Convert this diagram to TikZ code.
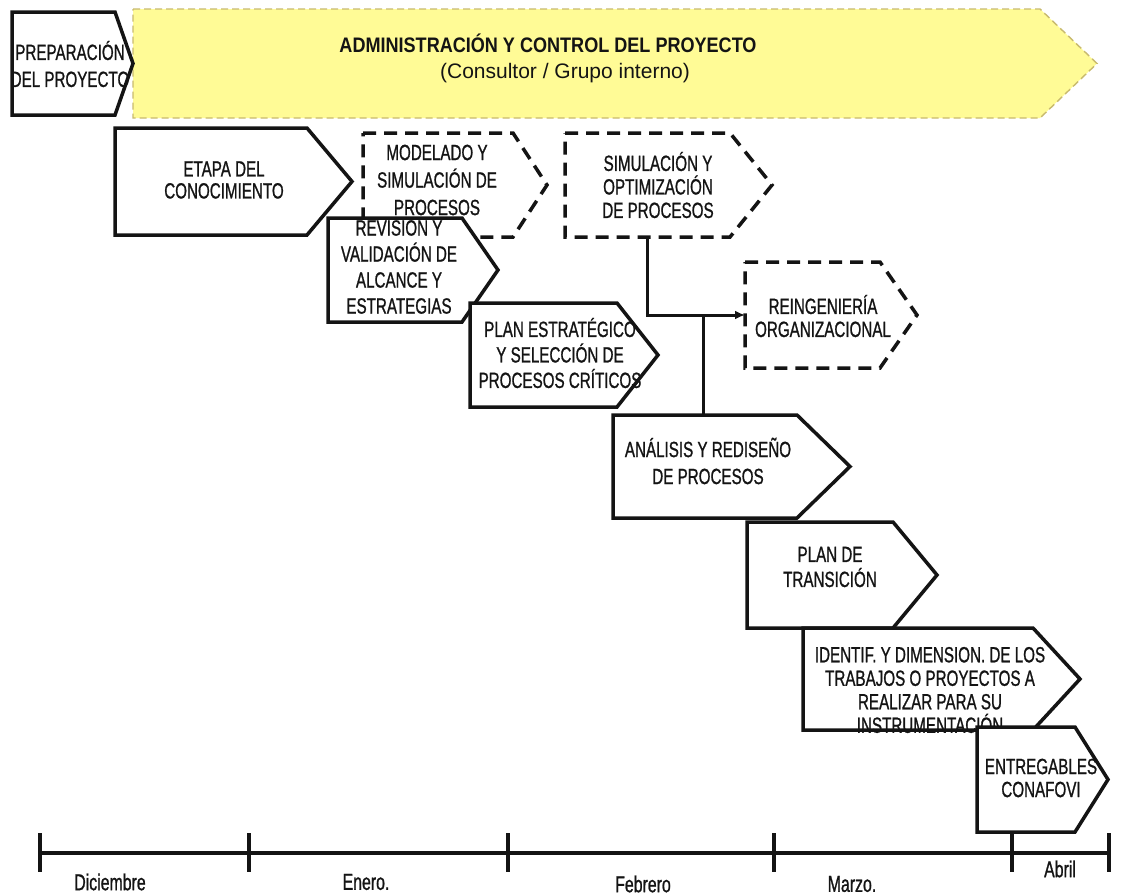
\documentclass[tikz,border=0pt]{standalone}
\usepackage{fontspec}
\setmainfont{Liberation Sans}
\newfontfamily\narrowfont{Liberation Sans}[FakeStretch=0.69,FakeBold=0.9]
\newfontfamily\titlefont{Liberation Sans}[FakeStretch=0.86]
\usetikzlibrary{arrows.meta}

\definecolor{banner}{RGB}{255,251,150}
\definecolor{bannerline}{RGB}{200,186,110}
\definecolor{ink}{RGB}{20,20,20}

\tikzset{
  shapebody/.style={draw=none, inner sep=0pt, outer sep=0pt, rectangle},
  solidstage/.style={draw=ink, line width=3.5pt, fill=white},
  dashedstage/.style={draw=ink, line width=3.5pt, fill=white, dash pattern=on 13pt off 8pt},
  bannerstage/.style={draw=bannerline, line width=1.4pt, fill=banner, dash pattern=on 7pt off 4pt},
  stagetext/.style={align=center, text=ink, inner sep=0pt},
  month/.style={font=\narrowfont\fontsize{23}{24}\selectfont, text=ink, inner sep=0pt},
  rule/.style={draw=ink, line width=3.5pt},
  link/.style={draw=ink, line width=3pt},
}
% text size with a given line spacing
\newcommand\stagefont[1]{\narrowfont\fontsize{22}{#1}\selectfont}

% pentagon arrow: #1 style, #2 name, (#3,#4) top left, (#5,#6) bottom right of body, #7 tip x
\newcommand\stagebox[7]{%
  \node[shapebody, minimum width={#5-#3}, minimum height={#6-#4}] (#2) at ({(#3+#5)/2},{(#4+#6)/2}) {};
  \draw[#1] (#2.north west) -- (#2.north east) -- ([xshift={#7-#5}]#2.east)
            -- (#2.south east) -- (#2.south west) -- cycle;
}

\begin{document}
\begin{tikzpicture}[x=1pt,y=-1pt]
\useasboundingbox[fill=white] (0,0) rectangle (1122,895);

% project management banner
\stagebox{bannerstage}{admin}{133}{9}{1040}{118}{1097}
\node[stagetext, font=\titlefont\bfseries\fontsize{21}{24}\selectfont] (admin-t) at (548,43)
  {ADMINISTRACIÓN Y CONTROL DEL PROYECTO};
\node[stagetext, font=\fontsize{21}{24}\selectfont] (admin-s) at (565,73)
  {(Consultor / Grupo interno)};

% preparation
\stagebox{solidstage}{prep}{12}{12}{115}{115}{133}
\node[stagetext, font=\stagefont{27}] (prep-t) at (70,64) {PREPARACIÓN\\DEL PROYECTO};

% knowledge stage
\stagebox{solidstage}{etapa}{115}{128}{307}{235}{352}
\node[stagetext, font=\stagefont{22}] (etapa-t) at (224,180) {ETAPA DEL\\CONOCIMIENTO};

% modelling and simulation
\stagebox{dashedstage}{model}{363}{133}{513}{237}{547}
\node[stagetext, font=\stagefont{27.5}] (model-t) at (437,180) {MODELADO Y\\SIMULACIÓN DE\\PROCESOS};

% simulation and optimisation
\stagebox{dashedstage}{sim}{565}{133}{730}{237}{772}
\node[stagetext, font=\stagefont{23.5}] (sim-t) at (658,185) {SIMULACIÓN Y\\OPTIMIZACIÓN\\DE PROCESOS};

% scope review
\stagebox{solidstage}{rev}{328}{218}{462}{322}{498}
\node[stagetext, font=\stagefont{26}] (rev-t) at (399,267) {REVISION Y\\VALIDACIÓN DE\\ALCANCE Y\\ESTRATEGIAS};

% strategic plan
\stagebox{solidstage}{plan}{470}{303}{617}{407}{658}
\node[stagetext, font=\stagefont{25.5}] (plan-t) at (560,353) {PLAN ESTRATÉGICO\\Y SELECCIÓN DE\\PROCESOS CRÍTICOS};

% organisational reengineering
\stagebox{dashedstage}{reing}{745}{262}{880}{368}{917}
\node[stagetext, font=\stagefont{23}] (reing-t) at (823,316) {REINGENIERÍA\\ORGANIZACIONAL};

% links from simulation
\draw[link, -{Latex[length=10pt,width=9pt]}] (sim.south) |- (reing.west);
\path (sim.south |- reing.west) -- (reing.west) coordinate[pos=0.57] (branch);

% process analysis
\stagebox{solidstage}{anal}{613}{415}{797}{518}{850}
\draw[link] (branch) -- (branch |- anal.north);
\node[stagetext, font=\stagefont{27}] (anal-t) at (708,461) {ANÁLISIS Y REDISEÑO\\DE PROCESOS};

% transition plan
\stagebox{solidstage}{trans}{747}{522}{893}{628}{937}
\node[stagetext, font=\stagefont{25}] (trans-t) at (830,567) {PLAN DE\\TRANSICIÓN};

% identification of works
\stagebox{solidstage}{ident}{803}{628}{1033}{730}{1080}
\node[stagetext, font=\stagefont{23.5}] (ident-t) at (930,690)
  {IDENTIF. Y DIMENSION. DE LOS\\TRABAJOS O PROYECTOS A\\REALIZAR PARA SU\\INSTRUMENTACIÓN};

% deliverables
\stagebox{solidstage}{entreg}{977}{727}{1075}{832}{1108}
\node[stagetext, font=\stagefont{23}] (entreg-t) at (1041,778) {ENTREGABLES\\CONAFOVI};

% time line
\coordinate (m0) at (40,853);
\coordinate (m1) at (249,853);
\coordinate (m2) at (508,853);
\coordinate (m3) at (774,853);
\coordinate (m4) at (1012,853);
\coordinate (m5) at (1109,853);
\draw[rule] (m0) -- (m5);
\foreach \m in {m0,m1,m2,m3,m4,m5}
  \draw[rule] ([yshift=20pt]\m) -- ([yshift=-19pt]\m);

\node[month] (dic) at (110,882) {Diciembre};
\node[month] (ene) at (366,882) {Enero.};
\node[month] (feb) at (643,884) {Febrero};
\node[month] (mar) at (852,884) {Marzo.};
\node[month] (abr) at (1060,869) {Abril};
\end{tikzpicture}
\end{document}
